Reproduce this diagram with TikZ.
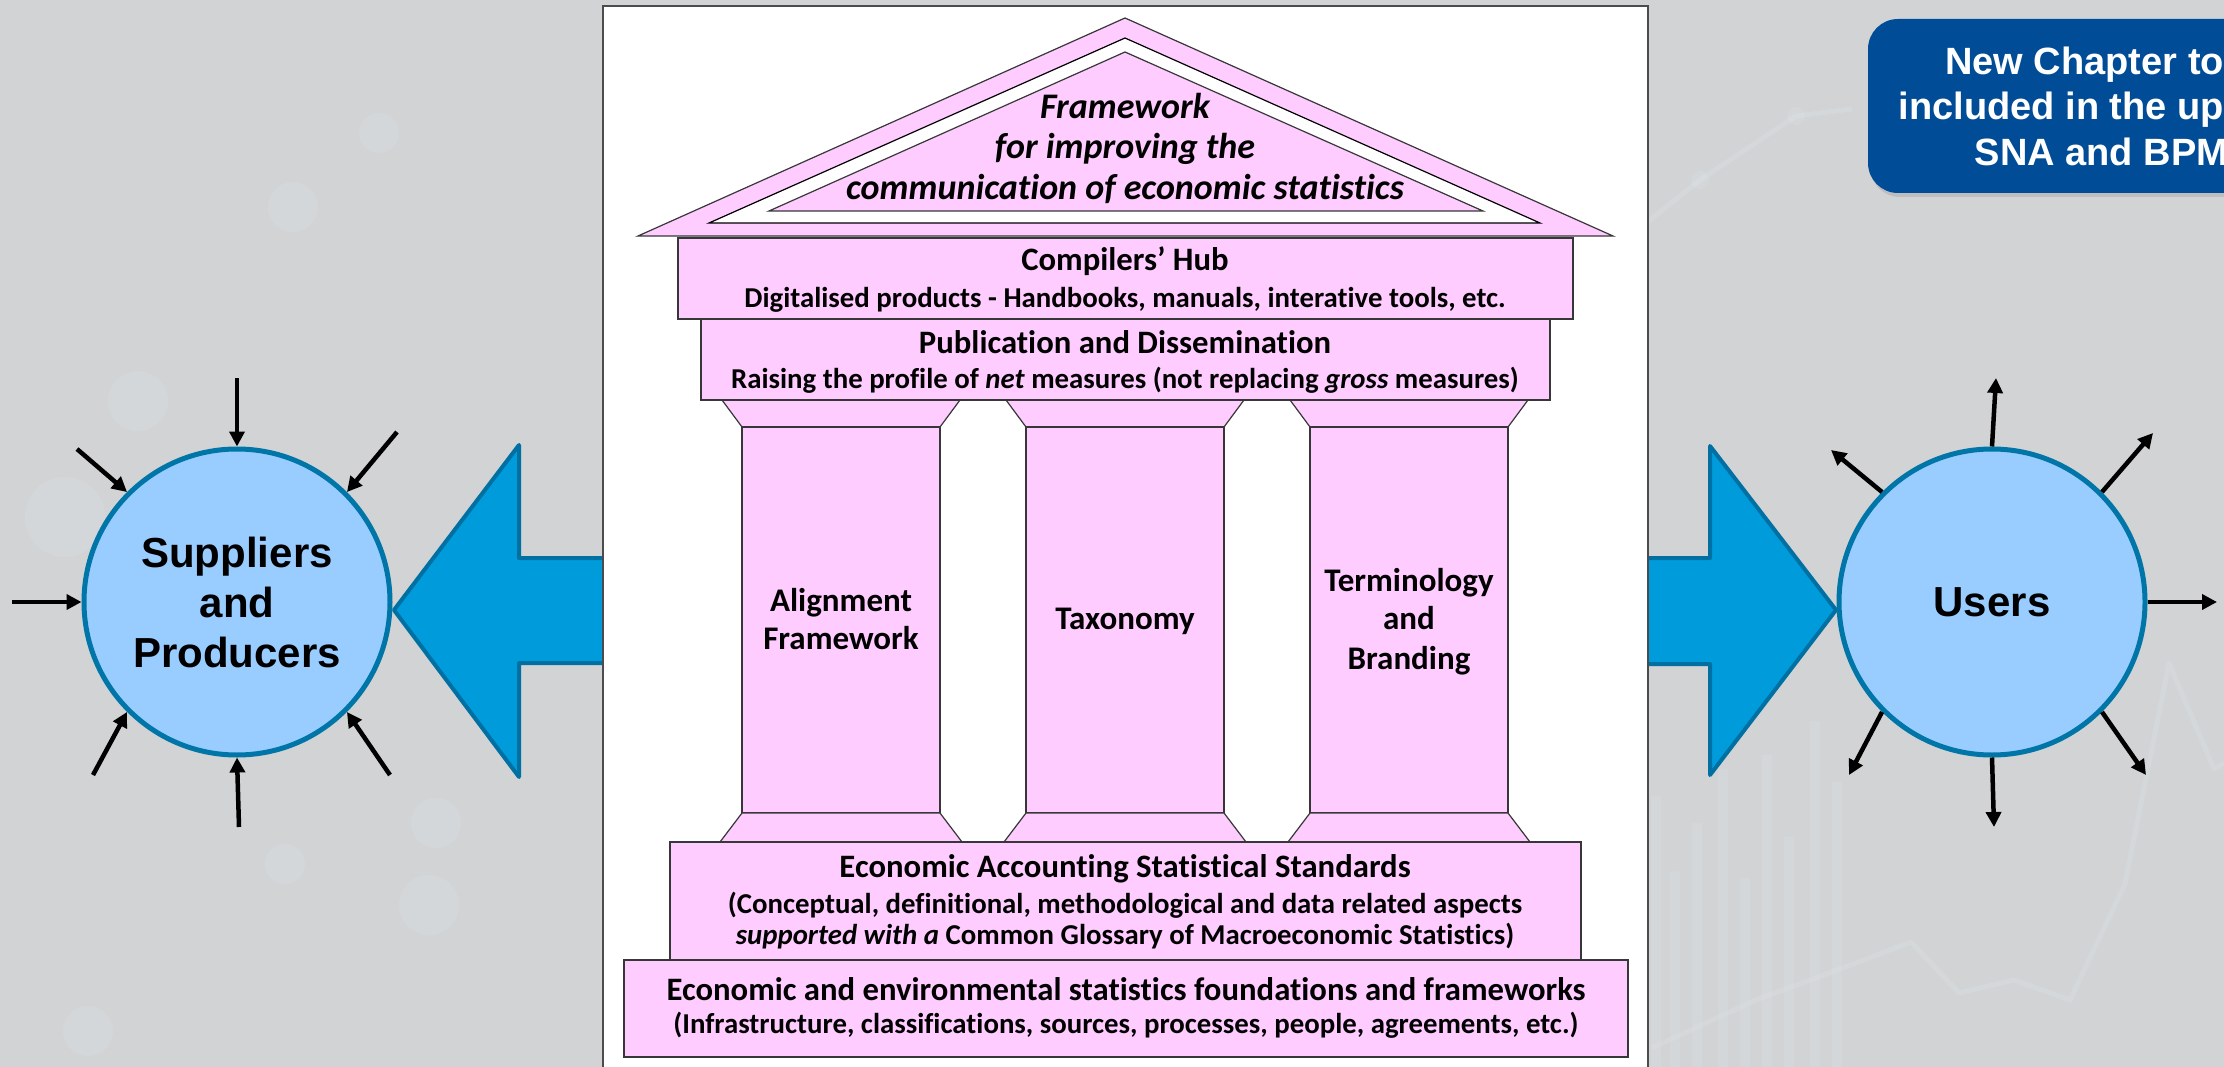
\documentclass[tikz,border=0pt]{standalone}
\usepackage{fontspec}
\setmainfont{Carlito}[Ligatures=NoCommon]
\newfontfamily\arialfont{Liberation Sans}
\usepackage{tikz}
\usetikzlibrary{arrows.meta,shadows}

\definecolor{bggray}{RGB}{209,211,213}
\definecolor{pillarpink}{RGB}{255,204,255}
\definecolor{arrowblue}{RGB}{0,155,219}
\definecolor{arrowedge}{RGB}{0,112,163}
\definecolor{circleblue}{RGB}{153,204,255}
\definecolor{circleedge}{RGB}{0,118,168}
\definecolor{bannerblue}{RGB}{0,76,151}
\definecolor{slabedge}{RGB}{55,55,55}
\definecolor{decorgray}{RGB}{222,226,228}

\begin{document}
\begin{tikzpicture}[x=1pt,y=-1pt,
    part/.style={fill=pillarpink,draw=slabedge,line width=1.2pt},
    slab/.style={part,rectangle,inner sep=0pt},
    bigarrow/.style={fill=arrowblue,draw=arrowedge,line width=4pt,line join=round},
    actor/.style={circle,fill=circleblue,draw=circleedge,line width=5pt,minimum size=306pt,inner sep=0pt,align=center,font=\arialfont\bfseries\fontsize{42}{50}\selectfont},
    spoke/.style={line width=4.5pt,-{Triangle[length=15pt,width=15pt]}},
    rooftext/.style={anchor=base,inner sep=0pt,font=\fontsize{36}{40}\selectfont\bfseries\itshape},
    headtext/.style={anchor=base,inner sep=0pt,font=\fontsize{32.7}{36}\selectfont\bfseries},
    smalltext/.style={anchor=base,inner sep=0pt,font=\fontsize{28.8}{32}\selectfont\bfseries},
    pillartext/.style={anchor=base,inner sep=0pt,font=\fontsize{33}{38}\selectfont\bfseries},
    banner/.style={rectangle,rounded corners=30pt,fill=bannerblue,text=white,align=center,minimum width=488pt,minimum height=174pt,font=\arialfont\bfseries\fontsize{38}{45.5}\selectfont,drop shadow={opacity=.25,shadow xshift=2pt,shadow yshift=-4pt}},
    decor/.style={fill=decorgray,opacity=.3},
    decorline/.style={draw=decorgray,line width=5pt,opacity=.35,line join=round}
]
\useasboundingbox (0,0) rectangle (2224,1067);
\fill[bggray] (0,0) rectangle (2224,1067);   % grey slide background

% faint bokeh dots on the left
\foreach \dx/\dy/\r in {379/133/20, 293/207/25, 138/401/30, 65/517/40, 436/823/25, 285/864/20, 429/905/30, 88/1031/25}
  \fill[decor] (\dx,\dy) circle (\r);
% faint chart behind the users
\foreach \bx/\by in {1656/796, 1675/871, 1697/823, 1723/769, 1745/878, 1767/755, 1789/837, 1815/721, 1837/782}
  \fill[decor] (\bx-5,\by) rectangle (\bx+5,1067);
\draw[decorline] (1652,1048) -- (1756,1000) -- (1848,966) -- (1911,942) -- (1959,993) -- (2014,980) -- (2070,1000) -- (2125,884) -- (2169,663) -- (2214,769) -- (2230,760);
\draw[decorline] (1645,224) -- (1700,180) -- (1796,116) -- (1852,109);
\fill[decor] (1700,180) circle (9);
\fill[decor] (1796,116) circle (9);

% the two fat arrows, their shafts run in under the white panel
\draw[bigarrow] (620,558) -- (519,558) -- (519,445) -- (394,610) -- (519,777) -- (519,663) -- (620,663) -- cycle;
\draw[bigarrow] (1630,558) -- (1710,558) -- (1710,446) -- (1836,610) -- (1710,775) -- (1710,664) -- (1630,664) -- cycle;

% white panel with the temple
\draw[fill=white,draw=gray!60!black,line width=1.5pt] (603,6) rectangle (1648,1080);

% roof: outer pink, white band, inner pink
\draw[part] (1125,18) -- (638,236) -- (1613,236) -- cycle;
\draw[fill=white,draw=black,line width=1.2pt] (1125,38) -- (709,223) -- (1540,223) -- cycle;
\draw[part] (1125,52) -- (769,211) -- (1483,211) -- cycle;
\node[rooftext] (roof1) at (1125,119) {Framework};
\node[rooftext] (roof2) at (1125,159) {for improving the};
\node[rooftext] (roof3) at (1125,200) {communication of economic statistics};

% three pillars: capital, shaft, foot
\foreach \cx in {841,1125,1409} {
  \draw[part] (\cx-119,400) -- (\cx+119,400) -- (\cx+99,427) -- (\cx-99,427) -- cycle;
  \draw[part] (\cx-99,427) rectangle (\cx+99,813);
  \draw[part] (\cx-99,813) -- (\cx+99,813) -- (\cx+121,842) -- (\cx-121,842) -- cycle;
}

% slabs
\node[slab,minimum width=895pt,minimum height=81pt] (hub) at (1125.5,278.5) {};
\node[slab,minimum width=849pt,minimum height=81pt] (pub) at (1125.5,359.5) {};
\node[slab,minimum width=911pt,minimum height=118pt] (eass) at (1125.5,901) {};
\node[slab,minimum width=1004pt,minimum height=97pt] (found) at (1126,1008.5) {};

\node[headtext] (hubA) at (1125,271) {Compilers’ Hub};
\node[smalltext] (hubB) at (1125,307) {Digitalised products - Handbooks, manuals, interative tools, etc.};
\node[headtext] (pubA) at (1125,353) {Publication and Dissemination};
\node[smalltext] (pubB) at (1125,388) {Raising the profile of \textit{net} measures (not replacing \textit{gross} measures)};

\node[pillartext] (alignA) at (841,611) {Alignment};
\node[pillartext] (alignB) at (841,649) {Framework};
\node[pillartext] (taxo) at (1125,629) {Taxonomy};
\node[pillartext] (termA) at (1409,591) {Terminology};
\node[pillartext] (termB) at (1409,629) {and};
\node[pillartext] (termC) at (1409,669) {Branding};

\node[headtext] (eassA) at (1125,877) {Economic Accounting Statistical Standards};
\node[smalltext] (eassB) at (1125,913) {(Conceptual, definitional, methodological and data related aspects};
\node[smalltext] (eassC) at (1125,944) {\textit{supported with a} Common Glossary of Macroeconomic Statistics)};
\node[headtext] (foundA) at (1126,1000) {Economic and environmental statistics foundations and frameworks};
\node[smalltext] (foundB) at (1126,1033) {(Infrastructure, classifications, sources, processes, people, agreements, etc.)};

% suppliers, everything points in
\node[actor] (sup) at (237,602) {Suppliers\\and\\Producers};
\coordinate (supN) at (237,378);
\coordinate (supNE) at (397,432);
\coordinate (supNW) at (77,449);
\coordinate (supW) at (12,602);
\coordinate (supSW) at (93,775);
\coordinate (supSE) at (390,775);
\coordinate (supS) at (239,827);
\draw[spoke] (supN) -- (sup.90);
\draw[spoke] (supNE) -- (sup.45);
\draw[spoke] (supNW) -- (sup.135);
\draw[spoke] (supW) -- (sup.180);
\draw[spoke] (supSW) -- (sup.225);
\draw[spoke] (supSE) -- (sup.315);
\draw[spoke] (supS) -- (sup.270);

% users, everything points out
\node[actor] (usr) at (1992,602) {Users};
\coordinate (usrN) at (1996,378);
\coordinate (usrNE) at (2153,433);
\coordinate (usrNW) at (1831,450);
\coordinate (usrE) at (2217,602);
\coordinate (usrSW) at (1849,775);
\coordinate (usrSE) at (2146,775);
\coordinate (usrS) at (1994,827);
\draw[spoke] (usr.90) -- (usrN);
\draw[spoke] (usr.45) -- (usrNE);
\draw[spoke] (usr.135) -- (usrNW);
\draw[spoke] (usr.0) -- (usrE);
\draw[spoke] (usr.225) -- (usrSW);
\draw[spoke] (usr.315) -- (usrSE);
\draw[spoke] (usr.270) -- (usrS);

% blue note in the corner, runs off the slide
\begin{scope}
\clip (0,0) rectangle (2224,1067);
\node[banner] (chapter) at (2112,106) {New Chapter to be\\included in the updated\\SNA and BPM7};
\end{scope}
\end{tikzpicture}
\end{document}
